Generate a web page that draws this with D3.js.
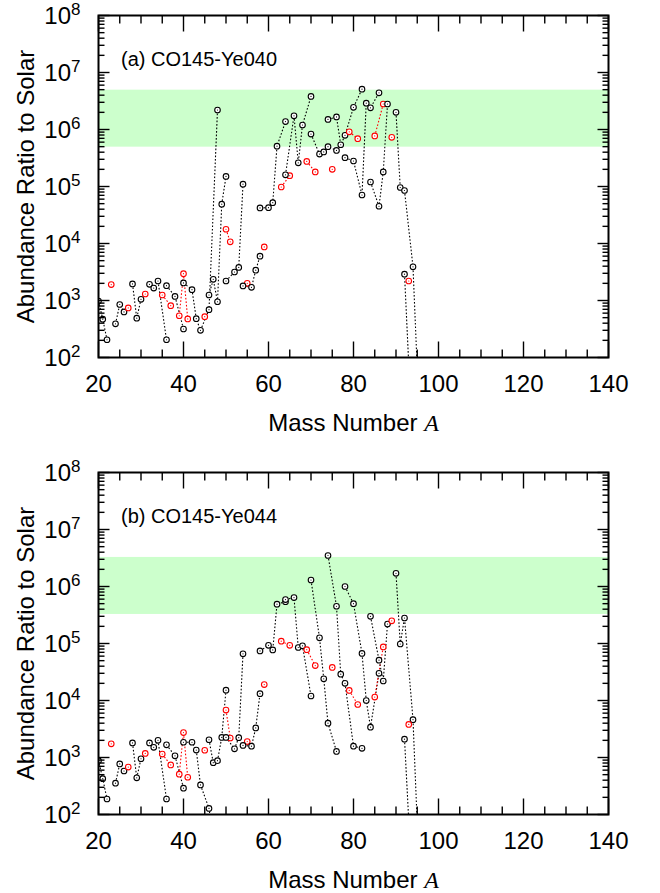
<!DOCTYPE html>
<html><head><meta charset="utf-8">
<script src="https://cdn.jsdelivr.net/npm/d3@7"></script>
<style>body{margin:0;background:#fff}</style>
</head><body><svg id="c" width="660" height="893"></svg>
<script>
// ---- data ----
const isoElement = ["Ne","Ne","Ne","Na","Mg","Mg","Mg","Al","Si","Si","Si","P","S","S","S","S","Cl","Cl","Ar","Ar","Ar","K","K","K",
  "Ca","Ca","Ca","Ca","Ca","Ca","Sc","Ti","Ti","Ti","Ti","Ti","V","V","Cr","Cr","Cr","Cr","Mn","Fe","Fe","Fe","Fe","Co",
  "Ni","Ni","Ni","Ni","Ni","Cu","Cu","Zn","Zn","Zn","Zn","Zn","Ga","Ga","Ge","Ge","Ge","Ge","Ge","As",
  "Se","Se","Se","Se","Se","Se","Br","Br","Kr","Kr","Kr","Kr","Kr","Kr","Rb","Rb","Sr","Sr","Sr","Sr","Y",
  "Zr","Zr","Zr","Zr","Zr","Nb","Mo","Mo"];
const isoMass = [20,21,22,23,24,25,26,27,28,29,30,31,32,33,34,36,35,37,36,38,40,39,40,41,
  40,42,43,44,46,48,45,46,47,48,49,50,50,51,50,52,53,54,55,54,56,57,58,59,
  58,60,61,62,64,63,65,64,66,67,68,70,69,71,70,72,73,74,76,75,
  74,76,77,78,80,82,79,81,78,80,82,83,84,86,85,87,84,86,87,88,89,
  90,91,92,94,96,93,92,94];
const ratioA = [980,470,205,1900,390,850,630,740,1950,490,1050,1300,1920,1650,2200,205,1250,810,1820,1180,316,540,2950,475,
  2030,1550,480,300,690,2.2e6,520,1250,2350,950,4.9e4,1.5e5,1.78e4,1.07e4,2200,3160,3800,1.1e5,2000,1800,1700,3400,6000,8700,
  4.2e4,4.25e4,5.2e4,5.1e5,1.38e6,9.8e4,1.55e5,1.6e5,1.74e6,2.6e5,1.2e6,3.8e6,2.75e5,1.8e5,8.3e5,3.7e5,4.05e5,5.0e5,4.3e5,2.0e5,
  1.5e6,1.66e6,5.4e5,7.9e5,2.45e6,5.1e6,9.1e5,6.9e5,3.2e5,2.8e5,7.1e4,2.9e6,2.4e6,4.4e6,7.7e5,2.8e6,1.2e5,4.5e4,1.8e5,2.8e6,7.3e5,
  2.0e6,9.6e4,8.5e4,3900,1,2200,2900,2];
const ratioB = [880,425,187,1740,355,770,580,680,1800,440,950,1180,1800,1510,2000,187,1150,740,1670,1070,290,510,2740,450,
  1850,1850,1350,330,128,10,1340,2050,810,880,2250,1.52e4,6800,2200,2250,1420,2230,6.6e4,1900,1630,1580,3300,1.32e4,1.9e4,
  7.4e4,9.3e4,7.7e4,4.9e5,5.4e5,1.1e5,9.3e4,5.9e5,6.4e5,8.5e4,9.1e4,1.2e4,7.8e4,4.1e4,1.3e6,1.26e5,2.4e4,4000,1280,3.8e4,
  3.5e6,4.5e5,2.9e4,2.0e4,1580,1450,1.5e4,8500,1.0e6,5.0e5,6.7e4,1.0e4,3400,3.0e4,1.15e4,8.7e4,3.0e5,5.1e4,2.2e4,2.2e5,2.5e5,
  1.7e6,9.8e4,2.8e5,4600,1,3800,2100,3];
const oddZElements = ["Na","Al","P","Cl","K","Sc","V","Mn","Co","Cu","Ga","As","Br","Rb","Y","Nb"];
const panelLabels = ["(a) CO145-Ye040", "(b) CO145-Ye044"];
const bandA = [5.0e5, 5.0e6];
const bandB = [3.3e5, 3.3e6];
const xTickValues = [20, 40, 60, 80, 100, 120, 140];
const yTickExponents = [2, 3, 4, 5, 6, 7, 8];
const xTitle = "Mass Number ";
const xTitleVar = "A";
const yTitle = "Abundance Ratio to Solar";

// ---- drawing ----
const svg = d3.select("#c");
const FONT = "'Liberation Sans', Arial, Helvetica, sans-serif";
const L = 98.5, R = 608.5;
const panels = [
  {top: 15.5, bottom: 357.5, vals: ratioA, band: bandA, label: panelLabels[0]},
  {top: 472.5, bottom: 814.5, vals: ratioB, band: bandB, label: panelLabels[1]}
];
const x = d3.scaleLinear().domain([20, 140]).range([L, R]);

panels.forEach((p, pi) => {
  const y = d3.scaleLog().domain([100, 1e8]).range([p.bottom, p.top]);
  const g = svg.append("g");
  const clipId = "clip" + pi;
  svg.append("clipPath").attr("id", clipId).append("rect")
    .attr("x", L).attr("y", p.top).attr("width", R - L).attr("height", p.bottom - p.top);

  // band
  g.append("rect").attr("x", L).attr("width", R - L)
    .attr("y", y(p.band[1])).attr("height", y(p.band[0]) - y(p.band[1]))
    .attr("fill", "#ccffcc");

  const pts = isoMass.map((m, i) => ({m, v: p.vals[i], el: isoElement[i]}));
  const groups = d3.groups(pts, d => d.el);
  const data = g.append("g").attr("clip-path", `url(#${clipId})`);
  const line = d3.line().x(d => x(d.m)).y(d => y(Math.max(d.v, 1e-3)));
  groups.forEach(([el, arr]) => {
    const col = oddZElements.includes(el) ? "#ff0000" : "#000000";
    const s = arr.slice().sort((a, b) => a.m - b.m);
    if (s.length > 1) {
      data.append("path").attr("d", line(s)).attr("fill", "none")
        .attr("stroke", col).attr("stroke-width", 1.1).attr("stroke-dasharray", "1.6,1.9");
    }
  });
  groups.forEach(([el, arr]) => {
    const col = oddZElements.includes(el) ? "#ff0000" : "#000000";
    arr.forEach(d => {
      if (d.v < 100) return;
      data.append("circle").attr("cx", x(d.m)).attr("cy", y(d.v)).attr("r", 2.8)
        .attr("fill", "#fff").attr("stroke", col).attr("stroke-width", 1.1);
      data.append("circle").attr("cx", x(d.m)).attr("cy", y(d.v)).attr("r", 0.6).attr("fill", col);
    });
  });

  // ticks
  const tk = g.append("g").attr("stroke", "#000").attr("stroke-width", 1.4);
  for (let v = 20; v <= 140; v += 5) {
    const len = v % 20 === 0 ? 16 : 8;
    const xx = x(v);
    tk.append("line").attr("x1", xx).attr("x2", xx).attr("y1", p.bottom).attr("y2", p.bottom - len);
    tk.append("line").attr("x1", xx).attr("x2", xx).attr("y1", p.top).attr("y2", p.top + len);
  }
  for (let e = 2; e <= 8; e++) {
    for (let k = 1; k <= 9; k++) {
      if (e === 8 && k > 1) break;
      const v = k * Math.pow(10, e);
      const len = k === 1 ? 11 : 6;
      const yy = y(v);
      tk.append("line").attr("x1", L).attr("x2", L + len).attr("y1", yy).attr("y2", yy);
      tk.append("line").attr("x1", R).attr("x2", R - len).attr("y1", yy).attr("y2", yy);
    }
  }
  // frame
  g.append("rect").attr("x", L).attr("y", p.top).attr("width", R - L).attr("height", p.bottom - p.top)
    .attr("fill", "none").attr("stroke", "#000").attr("stroke-width", 2);

  // x tick labels
  xTickValues.forEach(v => {
    g.append("text").attr("x", x(v)).attr("y", p.bottom + 34).attr("text-anchor", "middle")
      .attr("font-family", FONT).attr("font-size", 24).text(v);
  });
  // y tick labels
  yTickExponents.forEach(e => {
    const yy = y(Math.pow(10, e));
    g.append("text").attr("x", 71).attr("y", yy + 8.5).attr("text-anchor", "end")
      .attr("font-family", FONT).attr("font-size", 24).text("10");
    g.append("text").attr("x", 71).attr("y", yy - 0.5).attr("text-anchor", "start")
      .attr("font-family", FONT).attr("font-size", 17).text(e);
  });
  // titles
  const xt = g.append("text").attr("x", (L + R) / 2).attr("y", p.bottom + 73).attr("text-anchor", "middle")
    .attr("font-family", FONT).attr("font-size", 24);
  xt.append("tspan").text(xTitle);
  xt.append("tspan").attr("font-family", "'Liberation Serif', 'Times New Roman', serif").attr("font-style", "italic").text(xTitleVar);
  g.append("text").attr("transform", `translate(33.5,${(p.top + p.bottom) / 2}) rotate(-90)`)
    .attr("text-anchor", "middle").attr("font-family", FONT).attr("font-size", 24).text(yTitle);
  g.append("text").attr("x", 121).attr("y", p.top + 50).attr("font-family", FONT).attr("font-size", 20).text(p.label);
});
</script>
</body></html>
